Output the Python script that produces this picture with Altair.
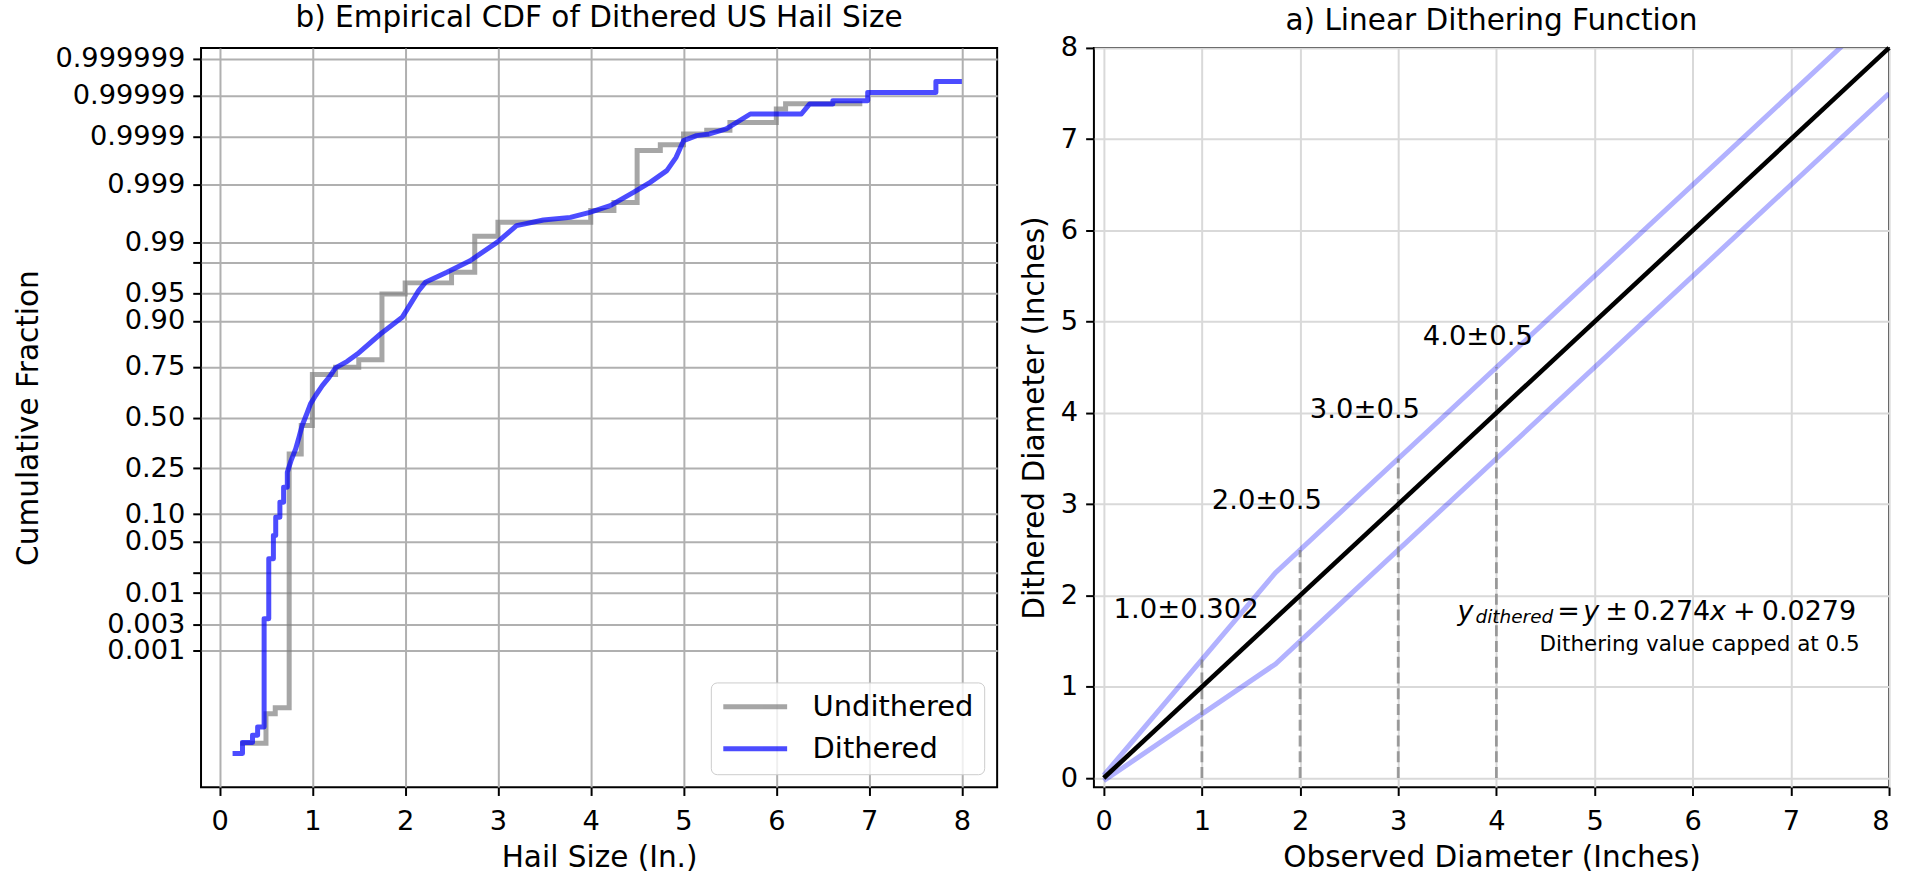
import altair as alt
import pandas as pd
from statistics import NormalDist

ND = NormalDist()
FONT = "DejaVu Sans"

# ---------------- Panel b: empirical CDF ----------------
undithered_x = [0.25, 0.5, 0.6, 0.75, 0.88, 1.0, 1.25, 1.5, 1.75, 2.0, 2.5, 2.75, 3.0,
                4.0, 4.25, 4.5, 4.75, 5.0, 5.25, 5.5, 6.0, 6.1, 6.9]
undithered_p = [7.9e-6, 4.3e-5, 6.0e-5, 0.315, 0.458, 0.716, 0.748, 0.778, 0.9494, 0.9629,
                0.973, 0.99187, 0.99517, 0.99696, 0.99783, 0.99980, 0.99985, 0.999915,
                0.99993, 0.999954, 0.9999784, 0.999984, 0.999984]

dithered_x = [0.14, 0.247, 0.247, 0.355, 0.355, 0.41, 0.41, 0.48, 0.48, 0.53, 0.53, 0.58,
              0.58, 0.605, 0.605, 0.65, 0.65, 0.69, 0.69, 0.73, 0.73, 0.77, 0.82, 0.856,
              0.89, 0.94, 0.98, 1.035, 1.107, 1.18, 1.25, 1.376, 1.484, 1.734, 1.968, 2.146,
              2.218, 2.45, 2.70, 2.99, 3.20, 3.49, 3.78, 3.99, 4.21, 4.46, 4.64, 4.82, 4.92,
              5.0, 5.14, 5.28, 5.46, 5.72, 6.27, 6.36, 6.61, 6.61, 6.985, 6.985, 7.72, 7.72, 8.0]
dithered_p = [4.2e-6, 4.2e-6, 8.2e-6, 8.2e-6, 1.26e-5, 1.26e-5, 2.04e-5, 2.04e-5, 0.00383,
              0.00383, 0.0306, 0.0306, 0.0589, 0.0589, 0.0933, 0.0933, 0.131, 0.131, 0.178,
              0.178, 0.234, 0.284, 0.339, 0.397, 0.458, 0.52, 0.572, 0.615, 0.664, 0.703,
              0.745, 0.772, 0.80, 0.866, 0.908, 0.9538, 0.9635, 0.9729, 0.9812, 0.98991,
              0.99452, 0.99559, 0.99602, 0.99674, 0.99751, 0.99858, 0.99909, 0.999468,
              0.999719, 0.999879, 0.999907, 0.999915, 0.999935, 0.9999714, 0.9999714,
              0.9999839, 0.9999839, 0.99998665, 0.99998665, 0.99999183, 0.99999183,
              0.99999582, 0.99999582]

tick_p = [0.001, 0.003, 0.01, 0.02, 0.05, 0.10, 0.25, 0.50, 0.75, 0.90, 0.95, 0.98, 0.99,
          0.999, 0.9999, 0.99999, 0.999999]
tick_labels = ["0.001", "0.003", "0.01", "", "0.05", "0.10", "0.25", "0.50", "0.75", "0.90",
               "0.95", "", "0.99", "0.999", "0.9999", "0.99999", "0.999999"]
series_names = ["Undithered", "Dithered"]

# ---------------- Panel a: linear dithering function ----------------
diag_x = [0, 8]
diag_y = [0, 8]
band_x = [0, 1.75, 8]
band_upper = [0.03, 2.25, 8.5]
band_lower = [-0.03, 1.25, 7.5]
guide_x = [1, 2, 3, 4]
guide_top = [1.30, 2.5, 3.5, 4.5]
label_text = ["1.0±0.302", "2.0±0.5", "3.0±0.5", "4.0±0.5"]
label_x = [0.1, 1.1, 2.1, 3.25]
label_y = [1.75, 2.95, 3.95, 4.75]
eq_x, eq_y = [7.7], [1.734]
note_text, note_x, note_y = ["Dithering value capped at 0.5"], [7.7], [1.388]

# ---------------- build tables ----------------
def z(p):
    return ND.inv_cdf(p)

df_gray = pd.DataFrame({"x": undithered_x, "z": [z(p) for p in undithered_p],
                        "series": series_names[0], "i": range(len(undithered_x))})
df_blue = pd.DataFrame({"x": dithered_x, "z": [z(p) for p in dithered_p],
                        "series": series_names[1], "i": range(len(dithered_x))})

tick_z = [z(p) for p in tick_p]
expr = ""
for a, b, lab in zip(tick_z[:-1], tick_z[1:], tick_labels[:-1]):
    expr += f"datum.value < {(a + b) / 2:.4f} ? '{lab}' : "
expr += f"'{tick_labels[-1]}'"

WL, WR, H = 798, 797, 741
TFS = 29.6   # title / axis-title size
LFS = 27.3   # tick-label size

xL = alt.X("x:Q", scale=alt.Scale(domain=[-0.2, 8.38], nice=False, zero=False),
           axis=alt.Axis(values=list(range(9)), title="Hail Size (In.)", gridColor="#b0b0b0"))
yL = alt.Y("z:Q", scale=alt.Scale(domain=[-4.9, 4.9], nice=False, zero=False),
           axis=alt.Axis(values=tick_z, labelExpr=expr, title="Cumulative Fraction",
                         gridColor="#b0b0b0"))
colorL = alt.Color("series:N",
                   scale=alt.Scale(domain=series_names, range=["#808080", "#0000ff"]),
                   legend=alt.Legend(title=None, orient="bottom-right", offset=13,
                                     symbolType="stroke", symbolSize=4096,
                                     symbolStrokeWidth=5, symbolOpacity=0.7,
                                     labelFontSize=29, labelFont=FONT, labelColor="black",
                                     labelLimit=0, labelOffset=23, padding=10,
                                     rowPadding=12, clipHeight=29, strokeColor="#cccccc",
                                     fillColor="rgba(255,255,255,0.8)", cornerRadius=6))

gray = alt.Chart(df_gray).mark_line(interpolate="step-after", strokeWidth=5, opacity=0.7,
                                    strokeCap="square").encode(
    x=xL, y=yL, color=colorL, order="i:Q")
blue = alt.Chart(df_blue).mark_line(interpolate="linear", strokeWidth=5, opacity=0.7,
                                    strokeJoin="round").encode(
    x=xL, y=yL, color=colorL, order="i:Q")

left = alt.layer(gray, blue).properties(
    width=WL, height=H,
    title=alt.TitleParams("b) Empirical CDF of Dithered US Hail Size", fontSize=TFS,
                          font=FONT, fontWeight="normal", color="black", anchor="middle",
                          baseline="alphabetic", offset=-12))

# right panel
df_band = pd.DataFrame({"x": band_x * 2, "y": band_upper + band_lower,
                        "which": ["upper"] * 3 + ["lower"] * 3, "i": list(range(6))})
df_diag = pd.DataFrame({"x": diag_x, "y": diag_y})
df_guide = pd.DataFrame({"x": guide_x, "y": [0] * len(guide_x), "y2": guide_top})
df_lab = pd.DataFrame({"x": label_x, "y": label_y, "t": label_text})
df_eq = pd.DataFrame({"x": eq_x, "y": eq_y})
df_note = pd.DataFrame({"x": note_x, "y": note_y, "t": note_text})

xR = alt.X("x:Q", scale=alt.Scale(domain=[-0.1, 8], nice=False, zero=False),
           axis=alt.Axis(values=list(range(9)), title="Observed Diameter (Inches)",
                         gridColor="#d9d9d9"))
yR = alt.Y("y:Q", scale=alt.Scale(domain=[-0.1, 8], nice=False, zero=False),
           axis=alt.Axis(values=list(range(9)), title="Dithered Diameter (Inches)",
                         gridColor="#d9d9d9"))

bands = alt.Chart(df_band).mark_line(color="#0000ff", opacity=0.3, strokeWidth=5,
                                     clip=True).encode(x=xR, y=yR, detail="which:N",
                                                       order="i:Q")
guides = alt.Chart(df_guide).mark_rule(color="#808080", opacity=0.75, strokeWidth=2.8,
                                       strokeDash=[11, 4.8]).encode(x=xR, y=yR, y2="y2:Q")
diag = alt.Chart(df_diag).mark_line(color="black", strokeWidth=4.6).encode(x=xR, y=yR)
labels = alt.Chart(df_lab).mark_text(align="left", baseline="alphabetic", fontSize=27.5,
                                     font=FONT, color="black").encode(x=xR, y=yR, text="t:N")

eq_pieces = [("y", "italic", 27, -403, 0), ("dithered", "italic", 18.5, -385, 3),
             ("=", "normal", 27, -303, 0), ("y", "italic", 27, -277, 0),
             ("±", "normal", 27, -255, 0), ("0.274", "normal", 27, -227, 0),
             ("x", "italic", 27, -150, 0), ("+", "normal", 27, -127, 0),
             ("0.0279", "normal", 27, -98, 0)]
eq_layers = [alt.Chart(df_eq).mark_text(text=t, fontStyle=st, fontSize=fs, dx=dx, dy=dy,
                                        align="left", baseline="alphabetic", font=FONT,
                                        color="black").encode(x=xR, y=yR)
             for t, st, fs, dx, dy in eq_pieces]
note = alt.Chart(df_note).mark_text(align="right", baseline="alphabetic", fontSize=21.5,
                                    font=FONT, color="black").encode(x=xR, y=yR, text="t:N")

right = alt.layer(bands, guides, diag, labels, *eq_layers, note).properties(
    width=WR, height=H,
    title=alt.TitleParams("a) Linear Dithering Function", fontSize=TFS, font=FONT,
                          fontWeight="normal", color="black", anchor="middle",
                          baseline="alphabetic", offset=-26))

chart = alt.hconcat(left, right, spacing=97, bounds="flush").resolve_scale(
    color="independent").resolve_legend(color="independent").properties(
    padding={"left": 12.5, "top": 1, "right": 5, "bottom": 4}
).configure_view(stroke="black", strokeWidth=2).configure_axis(
    labelFont=FONT, titleFont=FONT, labelFontSize=LFS, titleFontSize=TFS,
    labelColor="black", titleColor="black", titleFontWeight="normal",
    tickColor="black", tickWidth=2, tickSize=8.3, labelPadding=8, domain=False,
    gridWidth=2, labelOverlap=False, titlePadding=11
).configure_axisX(labelPadding=12, titlePadding=9)

chart.save("out.html", embed_options={"renderer": "svg", "actions": False})
